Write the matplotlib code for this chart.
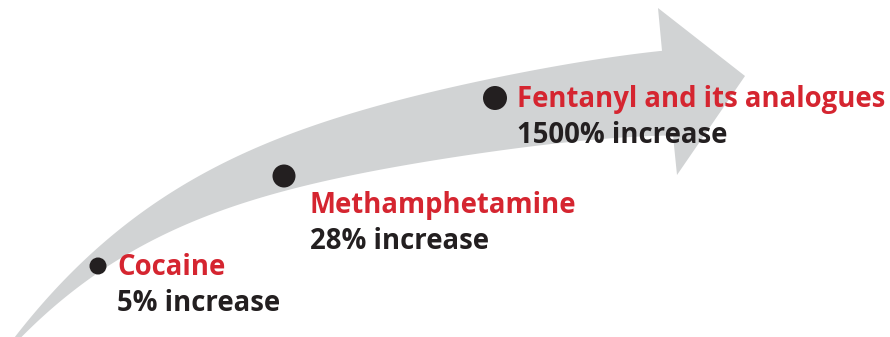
import matplotlib.pyplot as plt
import numpy as np
from matplotlib.patches import Polygon, Circle

plt.rcParams['font.family'] = ['Open Sans', 'DejaVu Sans']

# Drugs and their reported increase
drugs = ['Cocaine', 'Methamphetamine', 'Fentanyl and its analogues']
increase_pct = [5, 28, 1500]

# Layout in pixel space (x right, y down)
dot_xy = [(98, 266), (284, 176), (495, 98)]
dot_r = [8.5, 11.5, 12]
text_xy = [(117, 275), (310, 213), (517, 107)]
line_gap = 36

RED = '#D52530'
INK = '#231F20'
ARROW = '#D1D3D4'

# sample points along the two edges of the curved shaft
upper_pts = np.array([(15, 335), (50, 297), (83, 263), (117, 232), (150, 205), (200, 173),
                      (240, 155), (307, 130), (373, 107), (440, 90), (500, 77), (547, 67),
                      (613, 57), (662, 51)])
lower_pts = np.array([(23, 335), (67, 297), (100, 272), (133, 250), (167, 232), (200, 218),
                      (240, 205), (307, 187), (373, 171), (440, 158), (500, 150), (547, 145),
                      (613, 139), (673, 135)])
head = [(658, 8), (745, 76), (677, 175)]


def edge(pts, x0, x1, deg=4, n=200):
    coef = np.polyfit(pts[:, 0], pts[:, 1], deg)
    xs = np.linspace(x0, x1, n)
    return np.column_stack([xs, np.polyval(coef, xs)])


upper = edge(upper_pts, 6, 662)
lower = edge(lower_pts, 14, 673)[::-1]

fig = plt.figure(figsize=(8.9, 3.37), dpi=100)
ax = fig.add_axes([0, 0, 1, 1])
ax.set_xlim(0, 890)
ax.set_ylim(337, 0)
ax.axis('off')

outline = np.vstack([upper, np.array(head), lower])
ax.add_patch(Polygon(outline, closed=True, facecolor=ARROW, edgecolor='none', zorder=1))

for i, name in enumerate(drugs):
    cx, cy = dot_xy[i]
    ax.add_patch(Circle((cx, cy), dot_r[i], facecolor=INK, edgecolor='none', zorder=3))
    tx, ty = text_xy[i]
    ax.text(tx, ty, name, color=RED, fontsize=19.8, fontweight='bold',
            va='baseline', ha='left', zorder=4)
    ax.text(tx, ty + line_gap, f'{increase_pct[i]}% increase', color=INK, fontsize=19.8,
            fontweight='bold', va='baseline', ha='left', zorder=4)

fig.savefig('out.png', dpi=100)
